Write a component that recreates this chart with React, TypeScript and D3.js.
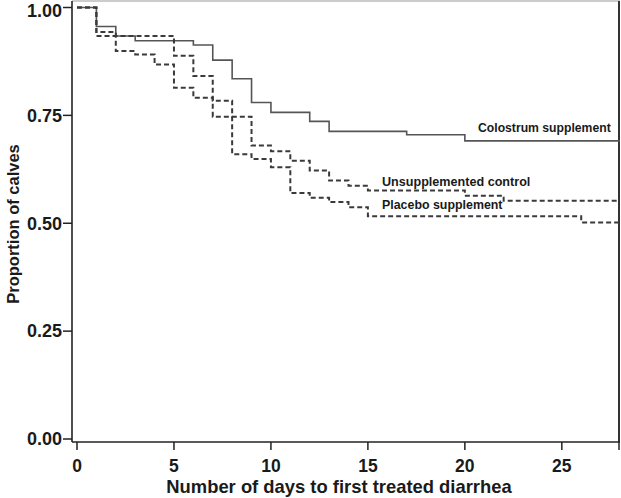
import React from "react";
import * as d3 from "d3";

const colostrumDays = [0, 1, 2, 3, 6, 7, 8, 9, 10, 12, 13, 17, 20, 28];
const colostrumVals = [1.0, 0.956, 0.934, 0.923, 0.913, 0.878, 0.835, 0.780, 0.757, 0.736, 0.713, 0.705, 0.691, 0.691];

const controlDays = [0, 1, 2, 5, 6, 7, 8, 9, 10, 11, 12, 13, 14, 15, 20, 22, 28];
const controlVals = [1.0, 0.943, 0.934, 0.888, 0.841, 0.784, 0.747, 0.680, 0.667, 0.645, 0.622, 0.599, 0.587, 0.576, 0.564, 0.552, 0.552];

const placeboDays = [0, 1, 2, 3, 4, 5, 6, 7, 8, 9, 10, 11, 12, 13, 14, 15, 26, 28];
const placeboVals = [1.0, 0.934, 0.899, 0.891, 0.868, 0.814, 0.791, 0.747, 0.660, 0.649, 0.630, 0.570, 0.559, 0.549, 0.537, 0.516, 0.502, 0.502];

const xTicks = [0, 5, 10, 15, 20, 25];
const yTicks = [0, 0.25, 0.5, 0.75, 1.0];

const seriesLabels = ["Colostrum supplement", "Unsupplemented control", "Placebo supplement"];
const xTitle = "Number of days to first treated diarrhea";
const yTitle = "Proportion of calves";

const W = 621;
const H = 498;
const frameLeft = 72;
const frameRight = 620;
const frameTop = 1;
const frameBottom = 442;

export default function App() {
  const x = d3.scaleLinear().domain([0, 28]).range([77, 620]);
  const y = d3.scaleLinear().domain([0, 1]).range([439, 7.5]);
  const line = d3
    .line<[number, number]>()
    .x((d) => x(d[0]))
    .y((d) => y(d[1]))
    .curve(d3.curveStepAfter);

  const zip = (a: number[], b: number[]) => a.map((v, i) => [v, b[i]] as [number, number]);
  const colostrum = zip(colostrumDays, colostrumVals);
  const control = zip(controlDays, controlVals);
  const placebo = zip(placeboDays, placeboVals);

  const font = "'Liberation Sans', Arial, Helvetica, sans-serif";

  return (
    <svg
      width={W}
      height={H}
      style={{ position: "absolute", left: 0, top: 0, background: "#fff" }}
      fontFamily={font}
    >
      <rect x={0} y={0} width={W} height={H} fill="#fff" />
      {/* frame */}
      <line x1={frameLeft} x2={frameRight} y1={frameTop} y2={frameTop} stroke="#999" strokeWidth={1} />
      <line x1={frameRight - 1} x2={frameRight - 1} y1={frameTop} y2={frameBottom} stroke="#333" strokeWidth={2} />
      <line x1={frameLeft} x2={frameLeft} y1={frameTop} y2={frameBottom} stroke="#222" strokeWidth={1.6} />
      <line x1={frameLeft} x2={frameRight} y1={frameBottom} y2={frameBottom} stroke="#222" strokeWidth={1.6} />

      {/* y ticks */}
      {yTicks.map((t) => (
        <g key={"y" + t}>
          <line x1={frameLeft - 9} x2={frameLeft} y1={y(t)} y2={y(t)} stroke="#222" strokeWidth={1.5} />
          <text
            x={frameLeft - 10}
            y={Math.max(y(t), 10.5)}
            dy="0.35em"
            textAnchor="end"
            fontSize={18}
            fontWeight="bold"
            fill="#1a1a1a"
          >
            {t.toFixed(2)}
          </text>
        </g>
      ))}

      {/* x ticks */}
      {xTicks.map((t) => (
        <g key={"x" + t}>
          <line x1={x(t)} x2={x(t)} y1={frameBottom} y2={frameBottom + 8} stroke="#222" strokeWidth={1.5} />
          <text
            x={x(t)}
            y={466}
            dy="0.36em"
            textAnchor="middle"
            fontSize={17.5}
            fontWeight="bold"
            fill="#1a1a1a"
          >
            {t}
          </text>
        </g>
      ))}
      <line x1={x(28) - 1} x2={x(28) - 1} y1={frameBottom} y2={frameBottom + 8} stroke="#222" strokeWidth={1.5} />

      {/* axis titles */}
      <text x={339} y={486} dy="0.36em" textAnchor="middle" fontSize={18.4} fontWeight="bold" fill="#1a1a1a">
        {xTitle}
      </text>
      <text
        transform={`translate(13, 224) rotate(-90)`}
        dy="0.36em"
        textAnchor="middle"
        fontSize={16.5}
        fontWeight="bold"
        fill="#1a1a1a"
      >
        {yTitle}
      </text>

      {/* curves */}
      <path d={line(colostrum) || ""} fill="none" stroke="#555" strokeWidth={1.6} />
      <path d={line(control) || ""} fill="none" stroke="#3a3a3a" strokeWidth={2} strokeDasharray="5,3" />
      <path d={line(placebo) || ""} fill="none" stroke="#3a3a3a" strokeWidth={2} strokeDasharray="5,3" />

      {/* series labels */}
      <text x={478} y={128} dy="0.36em" fontSize={12.2} fontWeight="bold" fill="#1a1a1a">
        {seriesLabels[0]}
      </text>
      <text x={382} y={181} dy="0.36em" fontSize={12.6} fontWeight="bold" fill="#1a1a1a">
        {seriesLabels[1]}
      </text>
      <text x={382} y={205} dy="0.36em" fontSize={12.4} fontWeight="bold" fill="#1a1a1a">
        {seriesLabels[2]}
      </text>
    </svg>
  );
}
